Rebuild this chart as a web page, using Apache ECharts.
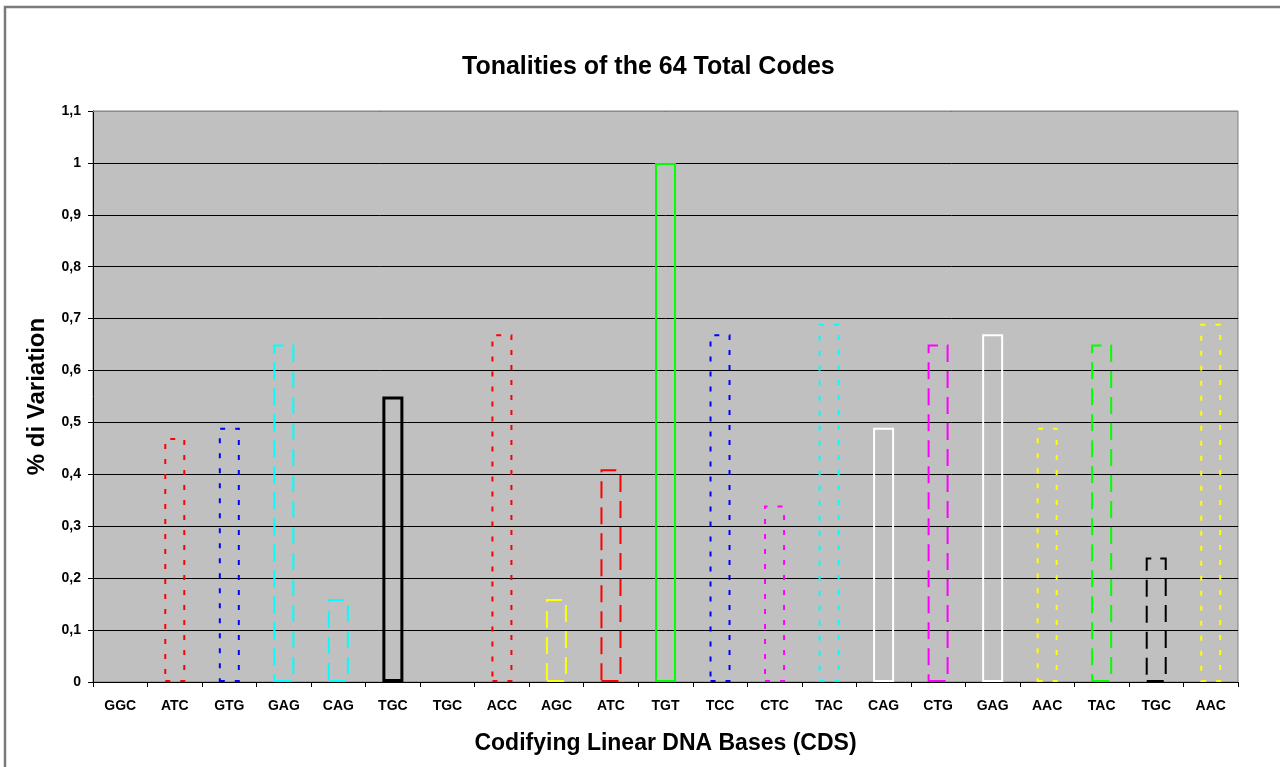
<!DOCTYPE html>
<html>
<head>
<meta charset="utf-8">
<title>Tonalities of the 64 Total Codes</title>
<script src="https://cdn.jsdelivr.net/npm/echarts/dist/echarts.min.js"></script>
<style>
  html, body { margin: 0; padding: 0; background: #ffffff; }
  #chart { width: 1280px; height: 767px; }
</style>
</head>
<body>
<div id="chart"></div>
<script>
// Codons along the coding sequence
const codons = ['GGC', 'ATC', 'GTG', 'GAG', 'CAG', 'TGC', 'TGC', 'ACC', 'AGC', 'ATC', 'TGT',
                'TCC', 'CTC', 'TAC', 'CAG', 'CTG', 'GAG', 'AAC', 'TAC', 'TGC', 'AAC'];

// Percent of variation for each codon
const variation = [0, 0.47, 0.49, 0.65, 0.16, 0.55, 0, 0.67, 0.16, 0.41, 1.0,
                   0.67, 0.34, 0.69, 0.49, 0.65, 0.67, 0.49, 0.65, 0.24, 0.69];

// Y axis ticks
const yMin = 0, yMax = 1.1, yStep = 0.1;

// Outline colour and line style of each bar
const barColors = ['#000000', '#ff0000', '#0000ff', '#00ffff', '#00ffff', '#000000', '#000000',
                   '#ff0000', '#ffff00', '#ff0000', '#00ff00', '#0000ff', '#ff00ff', '#00ffff',
                   '#ffffff', '#ff00ff', '#ffffff', '#ffff00', '#00ff00', '#000000', '#ffff00'];
const barLines  = ['none', 'dot', 'dot', 'dash', 'dash', 'solid', 'none', 'dot', 'dash', 'dash', 'solid',
                   'dot', 'dot', 'dot', 'solid', 'dash', 'solid', 'dot', 'dash', 'dash', 'dot'];

const lineTypes = {
  dot:   [5, 10],
  dash:  [17, 9],
  solid: 'solid'
};

const tickFont = "'Liberation Sans', Arial, sans-serif";
const bigFont  = "'Liberation Sans', Arial, sans-serif";

const barData = variation.map((v, i) => {
  const kind = barLines[i];
  return {
    value: v,
    itemStyle: {
      color: 'transparent',
      borderColor: barColors[i],
      borderWidth: kind === 'none' ? 0 : (kind === 'solid' && barColors[i] === '#000000' ? 3 : 2),
      borderType: kind === 'none' ? 'solid' : lineTypes[kind]
    }
  };
});

const chart = echarts.init(document.getElementById('chart'), null, { renderer: 'canvas' });

const gridBox = { left: 93, right: 42, top: 111, bottom: 85 };

chart.setOption({
  animation: false,
  backgroundColor: '#ffffff',
  title: {
    text: 'Tonalities of the 64 Total Codes',
    left: 457,
    top: 50,
    textStyle: { fontFamily: bigFont, fontWeight: 'bold', fontSize: 25, color: '#000000' }
  },
  graphic: [{
    // outer frame of the chart sheet
    type: 'rect',
    silent: true,
    z: -1,
    shape: { x: 5, y: 7, width: 1400, height: 900 },
    style: { fill: 'none', stroke: '#7a7a7a', lineWidth: 2.5 }
  }, {
    // grey top edge of the plot area
    type: 'line',
    silent: true,
    z: 10,
    shape: { x1: gridBox.left, y1: gridBox.top + 0.5, x2: 1280 - gridBox.right, y2: gridBox.top + 0.5 },
    style: { stroke: '#8a8a8a', lineWidth: 1 }
  }],
  grid: {
    left: gridBox.left,
    right: gridBox.right,
    top: gridBox.top,
    bottom: gridBox.bottom,
    show: true,
    backgroundColor: '#c0c0c0',
    borderColor: '#808080',
    borderWidth: 1
  },
  xAxis: {
    type: 'category',
    data: codons,
    boundaryGap: true,
    name: 'Codifying Linear DNA Bases (CDS)',
    nameLocation: 'middle',
    nameGap: 50,
    nameTextStyle: { fontFamily: bigFont, fontWeight: 'bold', fontSize: 23, color: '#000000' },
    axisLine: { lineStyle: { color: '#000000', width: 1 } },
    axisTick: { show: true, alignWithLabel: false, length: 5, lineStyle: { color: '#000000' } },
    axisLabel: {
      interval: 0,
      margin: 17,
      fontFamily: tickFont,
      fontWeight: 'bold',
      fontSize: 14,
      color: '#000000'
    },
    splitLine: { show: false }
  },
  yAxis: {
    type: 'value',
    min: yMin,
    max: yMax,
    interval: yStep,
    name: '% di Variation',
    nameLocation: 'middle',
    nameGap: 44,
    nameTextStyle: { fontFamily: bigFont, fontWeight: 'bold', fontSize: 24, color: '#000000' },
    axisLine: { show: true, lineStyle: { color: '#000000', width: 1 } },
    axisTick: { show: true, length: 5, lineStyle: { color: '#000000' } },
    axisLabel: {
      margin: 12,
      fontFamily: tickFont,
      fontWeight: 'bold',
      fontSize: 14,
      color: '#000000',
      formatter: v => String(Math.round(v * 10) / 10).replace('.', ',')
    },
    splitLine: { show: true, lineStyle: { color: '#000000', width: 1 } }
  },
  series: [{
    type: 'bar',
    data: barData,
    barWidth: 21,
    z: 3
  }]
});
</script>
</body>
</html>
